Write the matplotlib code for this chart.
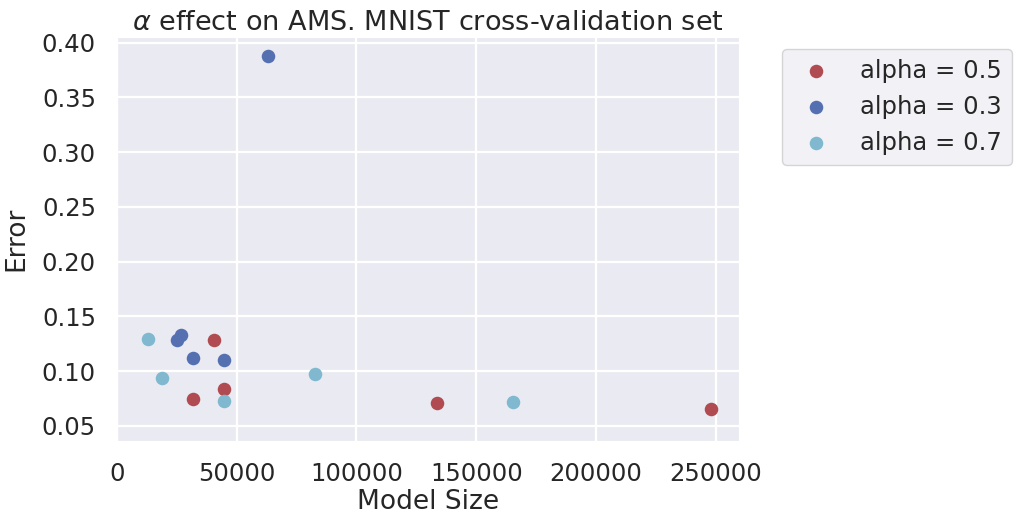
import numpy as np
import matplotlib
matplotlib.use('Agg')
import matplotlib.pyplot as plt
import seaborn as sns

# model size / error per alpha setting
size_a05 = [40500, 44600, 31800, 133600, 247900]
err_a05 = [0.1287, 0.0836, 0.0744, 0.0709, 0.0655]

size_a03 = [63000, 25300, 26650, 31800, 44600]
err_a03 = [0.3882, 0.1287, 0.1326, 0.1116, 0.1100]

size_a07 = [13200, 19000, 44600, 82600, 165400]
err_a07 = [0.1290, 0.0936, 0.0726, 0.0973, 0.0718]

labels = ['alpha = 0.5', 'alpha = 0.3', 'alpha = 0.7']
colors = ['#B04B51', '#5470B0', '#7FB8CF']

sns.set_style('darkgrid')
plt.rcParams['font.family'] = ['DejaVu Sans']
plt.rcParams['text.color'] = '#262626'
plt.rcParams['axes.labelcolor'] = '#262626'
plt.rcParams['xtick.color'] = '#262626'
plt.rcParams['ytick.color'] = '#262626'

fig = plt.figure(figsize=(10.16, 5.14), dpi=100)
ax = fig.add_axes([0.1149, 0.1426, 0.6125, 0.786])

series = [(size_a05, err_a05), (size_a03, err_a03), (size_a07, err_a07)]
for (xs, ys), lab, col in zip(series, labels, colors):
    ax.scatter(xs, ys, s=95, color=col, label=lab, linewidths=0)

ax.set_xlim(300, 259600)
ax.set_ylim(0.0364, 0.4055)
ax.set_xticks(np.arange(0, 250001, 50000))
ax.set_yticks(np.arange(0.05, 0.401, 0.05))
ax.set_yticklabels(['%.2f' % v for v in np.arange(0.05, 0.401, 0.05)])
ax.tick_params(axis='both', which='both', length=0, pad=15, labelsize=17.5)
ax.grid(True, color='white', linewidth=1.6)

ax.set_xlabel('Model Size', fontsize=19, labelpad=2.5)
ax.set_ylabel('Error', fontsize=19, labelpad=9)
ax.set_title(r'$\alpha$ effect on AMS. MNIST cross-validation set', fontsize=19.5, pad=5)

leg = ax.legend(bbox_to_anchor=(1.05, 1), loc=2, fontsize=17.5, frameon=True,
                scatterpoints=1)
leg.get_frame().set_facecolor('#EEEEF4')
leg.get_frame().set_edgecolor('#CCCCCC')

fig.savefig('out.png', dpi=100)
